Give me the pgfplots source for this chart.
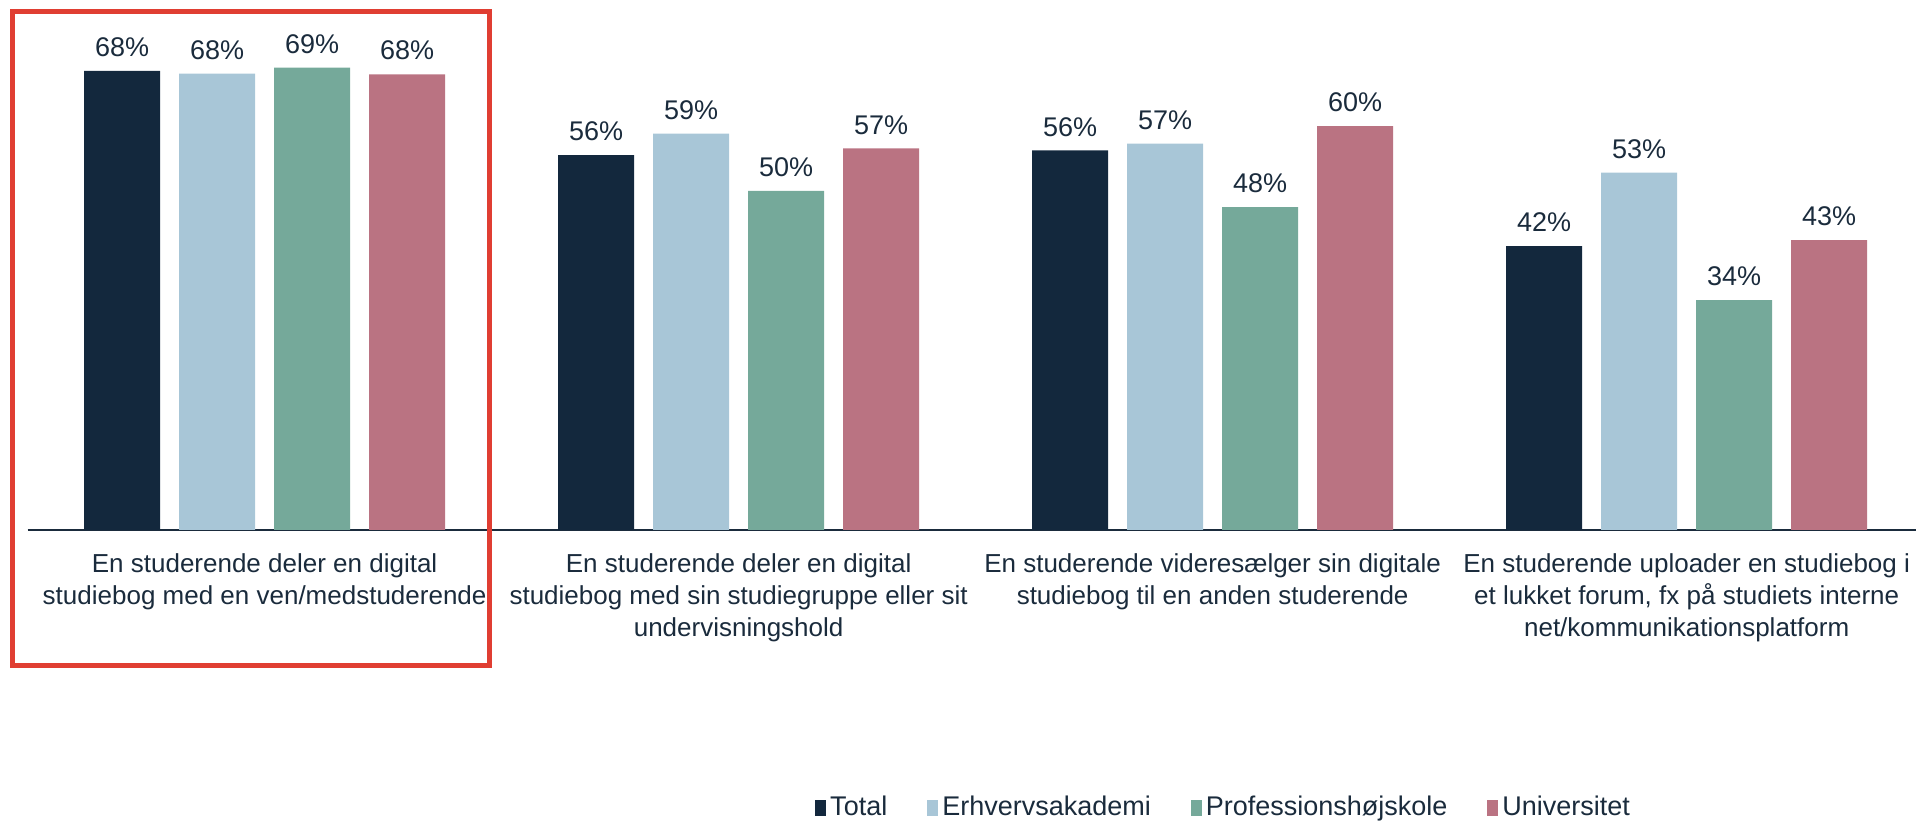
\documentclass[border=0pt]{standalone}
\usepackage{fontspec}
\setmainfont{Liberation Sans}
\usepackage{pgfplots}
\pgfplotsset{compat=1.18}
\definecolor{cTotal}{HTML}{13283D}
\definecolor{cErh}{HTML}{A8C6D7}
\definecolor{cProf}{HTML}{75A99A}
\definecolor{cUni}{HTML}{BA7382}
\definecolor{txt}{HTML}{1A2B3C}
\definecolor{boxred}{HTML}{E03E32}
\begin{document}
\begin{tikzpicture}
\path[use as bounding box] (0,0) rectangle (958pt,411.5pt);
\begin{axis}[
  at={(13.8pt,146.5pt)}, anchor=south west,
  scale only axis, width=944pt, height=262.9pt,
  xmin=-0.5, xmax=3.483, ymin=0, ymax=78,
  ybar=9.5pt, bar width=38pt,
  axis x line*=bottom, axis y line=none,
  x axis line style={draw=txt, line width=1pt, -},
  xtick={0,1,2,3}, major tick length=0pt,
  xticklabels={
    {En studerende deler en digital\\studiebog med en ven/medstuderende},
    {En studerende deler en digital\\studiebog med sin studiegruppe eller sit\\undervisningshold},
    {En studerende videresælger sin digitale\\studiebog til en anden studerende},
    {En studerende uploader en studiebog i\\et lukket forum, fx på studiets interne\\net/kommunikationsplatform}},
  xticklabel style={align=center, font=\fontsize{13}{16}\selectfont, text=txt, yshift=-8.3pt},
  /pgf/number format/assume math mode=true,
  nodes near coords={\pgfmathprintnumber[fixed,precision=0]{\pgfplotspointmeta}\%},
  every node near coord/.append style={font=\fontsize{13.5}{16}\selectfont, text=txt, yshift=3.5pt},
  clip=false,
  legend columns=4,
  legend style={at={(0.634,-0.528)}, anchor=center, draw=none, fill=none,
    font=\fontsize{13.5}{16}\selectfont, text=txt,
    /tikz/every even column/.append style={column sep=18pt}},
  legend image code/.code={\fill[#1,draw=none] (0pt,-4pt) rectangle (5.5pt,4pt);},
]
\addplot[fill=cTotal, draw=none] coordinates {(0,68.1) (1,55.6) (2,56.3) (3,42.1)};
\addplot[fill=cErh, draw=none] coordinates {(0,67.7) (1,58.8) (2,57.3) (3,53.0)};
\addplot[fill=cProf, draw=none] coordinates {(0,68.6) (1,50.3) (2,47.9) (3,34.1)};
\addplot[fill=cUni, draw=none] coordinates {(0,67.6) (1,56.6) (2,59.9) (3,43.0)};
\legend{Total, Erhvervsakademi, Professionshøjskole, Universitet}
\end{axis}
\draw[boxred, line width=2.5pt] (6pt,78.5pt) rectangle (244.5pt,405.5pt);
\end{tikzpicture}
\end{document}
